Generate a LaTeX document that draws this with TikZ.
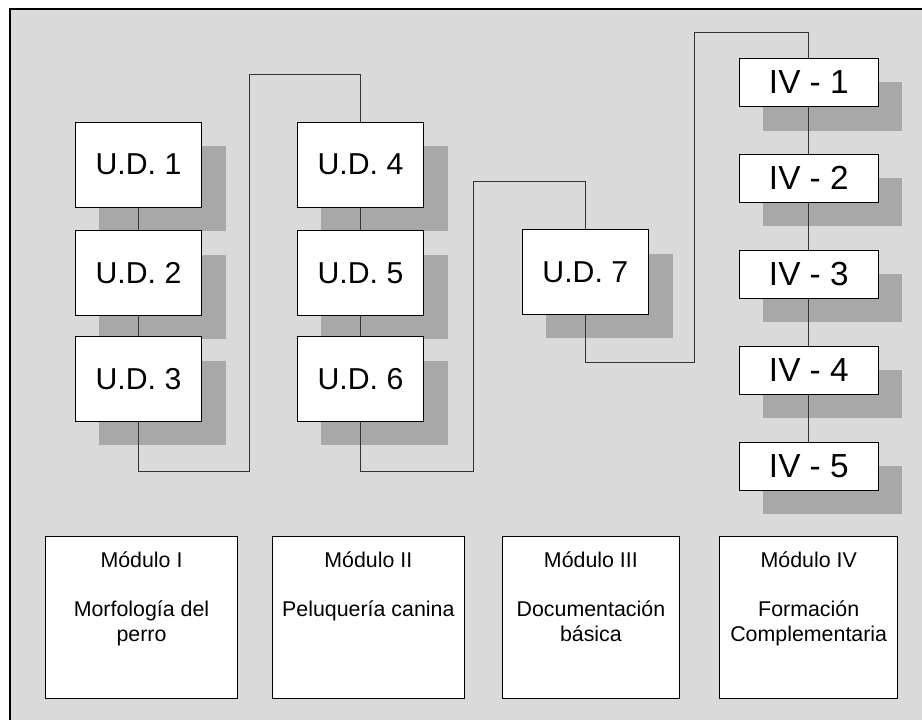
\documentclass[tikz,border=0pt]{standalone}
\usepackage{fontspec}
\setmainfont{Liberation Sans}
\usetikzlibrary{positioning,shadows}
\definecolor{panelgray}{RGB}{218,218,218}
\definecolor{shadegray}{RGB}{168,168,168}
\tikzset{
	shaded box/.style={draw=black,fill=white,line width=0.6pt,general shadow={fill=shadegray,shadow xshift=0.6cm,shadow yshift=-0.6cm}},
	udbox/.style={shaded box,minimum width=3.16cm,minimum height=2.12cm,inner sep=0pt,font=\fontsize{21.5}{25}\selectfont},
	ivbox/.style={shaded box,minimum width=3.475cm,minimum height=1.2cm,inner sep=0pt,font=\fontsize{23.7}{28}\selectfont},
	modbox/.style={draw=black,fill=white,line width=0.6pt,minimum height=4.04cm,inner sep=0pt},
	modtext/.style={align=center,inner sep=0pt,font=\fontsize{15.2}{18.2}\selectfont},
	link/.style={draw=black!80,line width=0.5pt}
}
\begin{document}
\begin{tikzpicture}[x=0.025cm,y=-0.025cm]
	\useasboundingbox (0,0) rectangle (922,720);
	\clip (0,0) rectangle (922,720);
	\draw[fill=panelgray,line width=1pt] (10,9) rectangle (940,740);
	\foreach \n/\x/\y in {1/138.5/164.7,2/138.5/273,3/138.5/379,4/360.5/164.7,5/360.5/273,6/360.5/379,7/585.3/272}
		\node[udbox] (ud\n) at (\x,\y) {U.D. \n};
	\foreach \n/\y in {1/82.5,2/178.3,3/274.3,4/370.3,5/466.3}
		\node[ivbox] (iv\n) at (808.8,\y) {IV - \n};
	\foreach \n/\x/\w/\txt in {1/141.5/4.81/{Módulo I\\[16.7pt]Morfología del\\perro},
		2/368.3/4.8/{Módulo II\\[16.7pt]Peluquería canina},
		3/590.9/4.41/{Módulo III\\[16.7pt]Documentación\\básica},
		4/808.7/4.45/{Módulo IV\\[16.7pt]Formación\\Complementaria}}
	{
		\node[modbox,minimum width=\w cm] (mod\n) at (\x,617.5) {};
		\node[modtext,below=10.5pt of mod\n.north] (mod\n text) {\txt};
	}
	\coordinate (turn1a) at (249.7,471);
	\coordinate (turn1b) at (249.7,74.3);
	\coordinate (turn2a) at (473,471);
	\coordinate (turn2b) at (473,181.7);
	\coordinate (turn3a) at (694,362.7);
	\coordinate (turn3b) at (694,32.7);
	\draw[link] (ud1) -- (ud2);
	\draw[link] (ud2) -- (ud3);
	\draw[link] (ud4) -- (ud5);
	\draw[link] (ud5) -- (ud6);
	\foreach \a/\b in {1/2,2/3,3/4,4/5}
		\draw[link] (iv\a) -- (iv\b);
	\draw[link] (ud3.south) |- (turn1a) -- (turn1b) -| (ud4.north);
	\draw[link] (ud6.south) |- (turn2a) -- (turn2b) -| (ud7.north);
	\draw[link] (ud7.south) |- (turn3a) -- (turn3b) -| (iv1.north);
\end{tikzpicture}
\end{document}
